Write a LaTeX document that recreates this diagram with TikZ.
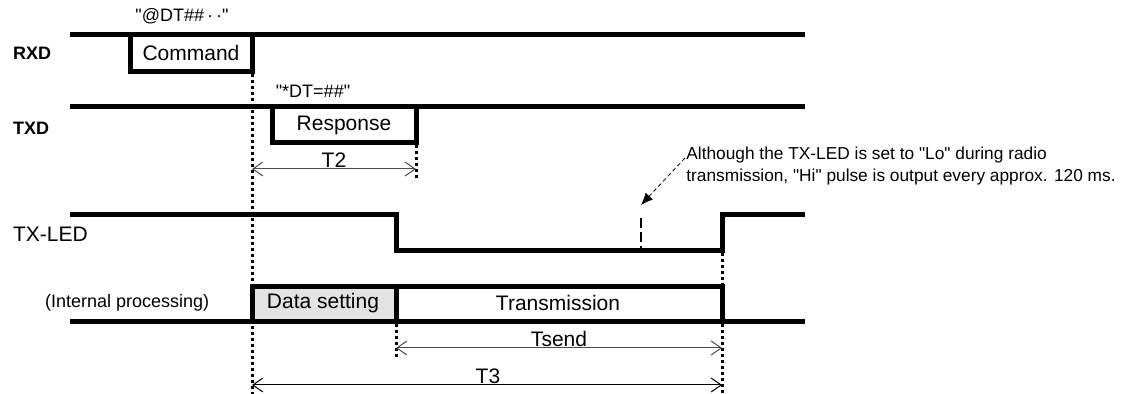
\documentclass[tikz,border=0pt]{standalone}
\usepackage{fontspec}
\setmainfont{Liberation Sans}[Ligatures=TeXOff]
\usetikzlibrary{arrows.meta, positioning}
\tikzset{x=0.5pt, y=-0.5pt,
    wave/.style={line width=2.5pt, line join=miter},
    guide/.style={line width=1.5pt, dash pattern=on 1.5pt off 1.5pt},
    span/.style={{Straight Barb[length=5pt,width=7pt]}-{Straight Barb[length=5pt,width=7pt]},
        line width=0.5pt, gray!60!black},
    callout/.style={-{Latex[length=6pt,width=5pt]}, dashed, line width=0.4pt,
        dash pattern=on 2pt off 1.5pt},
    signal/.style={anchor=west, font=\bfseries\fontsize{9}{11}\selectfont},
    label/.style={font=\fontsize{10.5}{12}\selectfont},
    small/.style={font=\fontsize{9}{11}\selectfont},
    note/.style={anchor=west, align=left, inner sep=0pt, font=\fontsize{8.65}{11}\selectfont}}

\begin{document}
\begin{tikzpicture}
\useasboundingbox (0,0) rectangle (1121,394);

% shaded part of the processing box
\fill[gray!22] (252,287) rectangle (396,322);

% waveforms
\draw[wave] (70,35) -- (805,35);
\draw[wave] (130,35) -- (130,72) -- (252,72) -- (252,35);
\draw[wave] (70,107) -- (805,107);
\draw[wave] (272,107) -- (272,143) -- (416,143) -- (416,107);
\draw[wave] (70,215) -- (396,215) -- (396,251) -- (722,251) -- (722,215) -- (805,215);
\draw[wave] (70,322) -- (805,322);
\draw[wave] (252,322) -- (252,287) -- (722,287) -- (722,322);
\draw[wave] (396,287) -- (396,322);
\draw[dashed, line width=1.2pt, dash pattern=on 5pt off 2pt] (641,218) -- (641,249);

% timing guides
\draw[guide] (252,74) -- (252,394);
\draw[guide] (416,145) -- (416,178);
\draw[guide] (396,324) -- (396,358);
\draw[guide] (722,253) -- (722,285);
\draw[guide] (722,324) -- (722,394);

% signal names
\node[signal] (rxd) at (6,53) {RXD};
\node[signal] (txd) at (6,128) {TXD};
\node[label, anchor=west] (led) at (6,234) {TX-LED};
\node[small, anchor=west] (proc) at (38,303) {(Internal processing)};

% frames
\node[small] (cmdstr) at (182,16) {"@DT\#\#\,·\,·"};
\node[label] (cmd) at (191,53) {Command};
\node[small] (respstr) at (313,91) {"*DT=\#\#"};
\node[label] (resp) at (344,125) {Response};
\node[label] (set) at (323,303) {Data setting};
\node[label] (send) at (558,303) {Transmission};

% intervals
\coordinate (a1) at (252,169);
\coordinate (a2) at (416,169);
\coordinate (b1) at (396,348);
\coordinate (b2) at (722,348);
\coordinate (c1) at (252,385);
\coordinate (c2) at (722,385);
\node[label] (t2) at (334,160) {T2};
\node[label] (tsend) at (559,339) {Tsend};
\node[label] (t3) at (488,376) {T3};

\path[span]
    (a1) edge (a2)
    (b1) edge (b2);
\path[span, black]
    (c1) edge (c2);

% remark on the LED pulse
\node[note] (rem) at (686,166) {Although the TX-LED is set to "Lo" during radio\\
transmission, "Hi" pulse is output every approx. 120 ms.};
\coordinate (pulse) at (641,205);
\coordinate (r0) at (685,158);
\draw[callout] (r0) -- (pulse);
\end{tikzpicture}
\end{document}
